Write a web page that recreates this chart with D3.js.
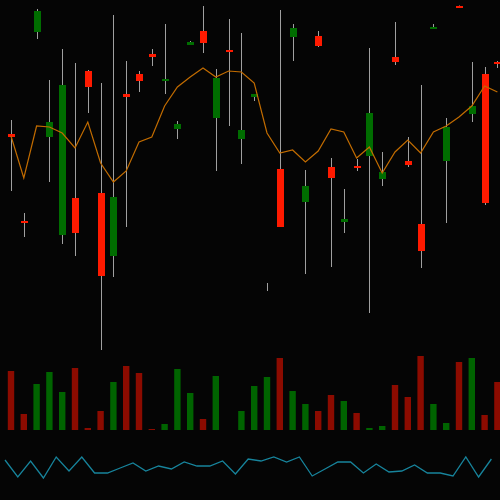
<!DOCTYPE html>
<meta charset="utf-8">
<style type="text/css">
   body { margin: 0; background: #050505; }
   .wick { stroke: #a0a0a0; stroke-width: 1; }
   .ma { fill: none; stroke: #c26c00; stroke-width: 1.2; }
   .osc { fill: none; stroke: #17849c; stroke-width: 1.3; }
</style>
<body></body>
<script src="https://d3js.org/d3.v7.min.js"></script>
<script>
// candles: open, high, low, close
var opens  = [101.6, 92.9, 111.8, 101.3, 91.5, 95.2, 107.9, 95.7, 89.4, 105.6, 107.6, 109.6, 106.9, 102.1, 110.5, 111.9, 103.2, 110.0, 101.1, 105.3,
              86.3, 98.1, 111.3, 94.8, 111.4, 98.3, 92.8, 98.4, 99.4, 97.1, 109.3, 98.9, 92.6, 112.1, 98.9, 114.4, 103.6, 107.6, 108.8];
var highs  = [103.0, 93.7, 114.1, 107.0, 110.1, 108.7, 108.0, 106.7, 113.5, 108.9, 107.9, 110.1, 112.6, 102.9, 110.9, 114.4, 108.1, 113.1, 111.7, 105.6,
              86.7, 114.0, 112.6, 98.0, 111.9, 99.2, 96.1, 99.1, 110.2, 99.8, 112.8, 101.3, 106.5, 112.6, 103.2, 114.45, 108.8, 108.3, 108.9];
var lows   = [95.9, 91.3, 111.1, 96.8, 90.6, 89.4, 103.7, 80.0, 87.3, 92.3, 105.8, 108.4, 105.6, 101.1, 110.5, 109.7, 97.9, 102.4, 98.6, 104.9,
              85.9, 92.3, 108.9, 87.6, 110.3, 88.3, 91.7, 97.9, 83.7, 96.4, 108.5, 98.3, 88.2, 112.1, 92.7, 114.25, 102.8, 94.5, 108.2];
var closes = [101.3, 92.7, 113.9, 102.8, 106.5, 91.7, 106.3, 87.4, 95.3, 105.3, 106.9, 109.3, 107.1, 102.6, 110.8, 110.7, 107.2, 109.8, 102.0, 105.6,
              86.3, 92.3, 112.2, 96.4, 110.4, 97.2, 93.1, 98.2, 103.7, 97.8, 108.8, 98.5, 89.9, 112.3, 102.3, 114.3, 104.4, 94.7, 108.6];
// moving average line
var maValues = [101.4, 97.2, 102.4, 102.3, 101.7, 100.2, 102.8, 98.7, 96.8, 97.9, 100.8, 101.3, 104.4, 106.3, 107.3, 108.2, 107.3, 107.9, 107.8, 106.7,
                101.7, 99.7, 100.0, 98.8, 99.9, 102.1, 101.8, 99.2, 100.3, 97.7, 99.8, 101.0, 99.7, 101.8, 102.4, 103.3, 104.4, 106.4, 105.8];
// volume (thousands)
var volumes = [59, 16, 46, 58, 38, 62, 2, 19, 48, 64, 57, 1, 6, 61, 37, 11, 54, 0, 19, 44,
               53, 72, 39, 26, 19, 35, 29, 17, 2, 4, 45, 33, 74, 26, 7, 68, 72, 15, 48];
// oscillator
var oscValues = [60, 26, 58, 24, 66, 38, 66, 34, 34, 44, 54, 38, 48, 42, 56, 48, 48, 58, 32, 62,
                 58, 66, 56, 66, 28, 42, 56, 56, 34, 52, 36, 38, 50, 34, 34, 28, 66, 26, 62];

var width = 500, height = 500;
var upColor = '#006d00', downColor = '#ff1a00';
var upVol = '#006400', downVol = '#8c0b00';

var svg = d3.select('body').append('svg')
    .attr('width', width)
    .attr('height', height)
    .style('display', 'block')
    .style('background', '#050505');

var xScale = d3.scaleLinear().domain([0, opens.length - 1]).range([11, 497.4]);
var yScale = d3.scaleLinear().domain([80, 115]).range([350, 0]);
var volScale = d3.scaleLinear().domain([0, 80]).range([430, 350]);
var oscScale = d3.scaleLinear().domain([0, 100]).range([490, 440]);

var idx = d3.range(opens.length);
var isUp = (i) => closes[i] >= opens[i];

// volume bars
svg.append('g').selectAll('rect')
    .data(idx)
    .enter()
    .append('rect')
    .attr('x', i => xScale(i) - 3.2)
    .attr('width', 6.4)
    .attr('y', i => volScale(volumes[i]))
    .attr('height', i => volScale(0) - volScale(volumes[i]))
    .attr('fill', i => isUp(i) ? upVol : downVol);

// wicks
var candles = svg.append('g');
candles.selectAll('line')
    .data(idx)
    .enter()
    .append('line')
    .attr('class', 'wick')
    .attr('x1', i => Math.round(xScale(i)) + 0.5)
    .attr('x2', i => Math.round(xScale(i)) + 0.5)
    .attr('y1', i => yScale(highs[i]))
    .attr('y2', i => yScale(lows[i]));

// bodies (flat ones kept 2px tall, except true doji)
function bodyH(i) {
    var h = Math.abs(yScale(opens[i]) - yScale(closes[i]));
    return opens[i] === closes[i] ? 0 : Math.max(h, 2);
}
candles.selectAll('rect')
    .data(idx)
    .enter()
    .append('rect')
    .attr('x', i => Math.round(xScale(i)) + 0.5 - 3.5)
    .attr('width', 7)
    .attr('y', i => yScale(Math.max(opens[i], closes[i])))
    .attr('height', bodyH)
    .attr('fill', i => isUp(i) ? upColor : downColor);

// moving average
svg.append('path')
    .datum(idx)
    .attr('class', 'ma')
    .attr('d', d3.line().x(i => xScale(i)).y(i => yScale(maValues[i])));

// oscillator, drawn half a step to the left
svg.append('path')
    .datum(idx)
    .attr('class', 'osc')
    .attr('d', d3.line().x(i => xScale(i) - 6).y(i => oscScale(oscValues[i])));
</script>
